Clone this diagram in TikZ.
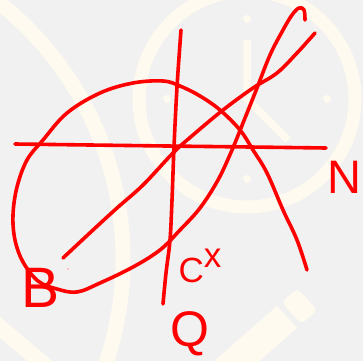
\documentclass[tikz,border=0pt]{standalone}
\usepackage{fontspec}
\setmainfont{Liberation Sans}
\definecolor{bg}{HTML}{F1F1F1}
\definecolor{cream}{HTML}{FEFAEF}
\definecolor{ink}{HTML}{FF0000}
\begin{document}
\begin{tikzpicture}[x=1pt,y=-1pt,
  wm/.style={draw=cream},
  stroke/.style={draw=ink, line width=3.6pt, line cap=round, line join=round},
  lab/.style={text=ink, inner sep=0pt}]
\useasboundingbox (0,0) rectangle (363,361);
\clip (0,0) rectangle (363,361);
\fill[bg] (0,0) rectangle (363,361);
% watermark
\draw[wm, line width=15pt] (-204,259) circle (327pt);
\draw[wm, line width=16pt] (-10,319) -- (60,378);
\draw[wm, line width=13pt] (247,99) circle (108pt);
\foreach \p in {(167,99),(327,99),(247,19),(247,179)} \fill[cream] \p circle (4pt);
\draw[cream, line width=7.5pt] (247,40) -- (247,99) -- (288,140);
\fill[cream] (277,306) -- (297,328) -- (184,427) -- (164,405) -- cycle;
\fill[cream, rounded corners=5pt] (281.5,302) -- (297.4,288.3) -- (317.4,310.3) -- (301.5,324) -- cycle;
% sketch strokes
\draw[stroke] plot[smooth, tension=0.6] coordinates {(305,20) (304,10) (299,8) (292,15) (283,30) (270,55) (257,88) (245,118) (232,150) (218,180) (200,208) (180,230) (160,250) (133,267) (100,283) (77,292) (57,289) (38,281) (23,262) (15,240) (13,215) (17,187) (27,160) (43,140) (67,113) (100,93) (133,83) (163,81) (180,86) (200,96) (220,110) (240,130) (253,150) (267,173) (283,210) (297,240) (307,270)};
\draw[stroke] plot[smooth, tension=0.6] coordinates {(63,258) (93,230) (117,208) (143,185) (173,153) (193,135) (223,110) (253,88) (277,73) (297,53) (307,42) (315,33)};
\draw[stroke] plot[smooth, tension=0.6] coordinates {(15,144) (90,145) (167,146) (250,147) (326,148)};
\draw[stroke] plot[smooth, tension=0.6] coordinates {(181,30) (177,87) (174,147) (172,200) (170,240) (166,273) (163,304)};
\fill[ink!40] (68,269) circle (0.8pt);
% labels
\node[lab, font=\fontsize{57}{57}\selectfont] (b) at (41,288) {B};
\node[lab, font=\fontsize{35}{35}\selectfont, anchor=base west] (c) at (178.5,282) {C\raisebox{15pt}{x}};
\node[lab, font=\fontsize{47}{47}\selectfont] (n) at (344,177) {N};
\node[lab, font=\fontsize{50}{50}\selectfont] (q) at (190,334) {Q};
\end{tikzpicture}
\end{document}
